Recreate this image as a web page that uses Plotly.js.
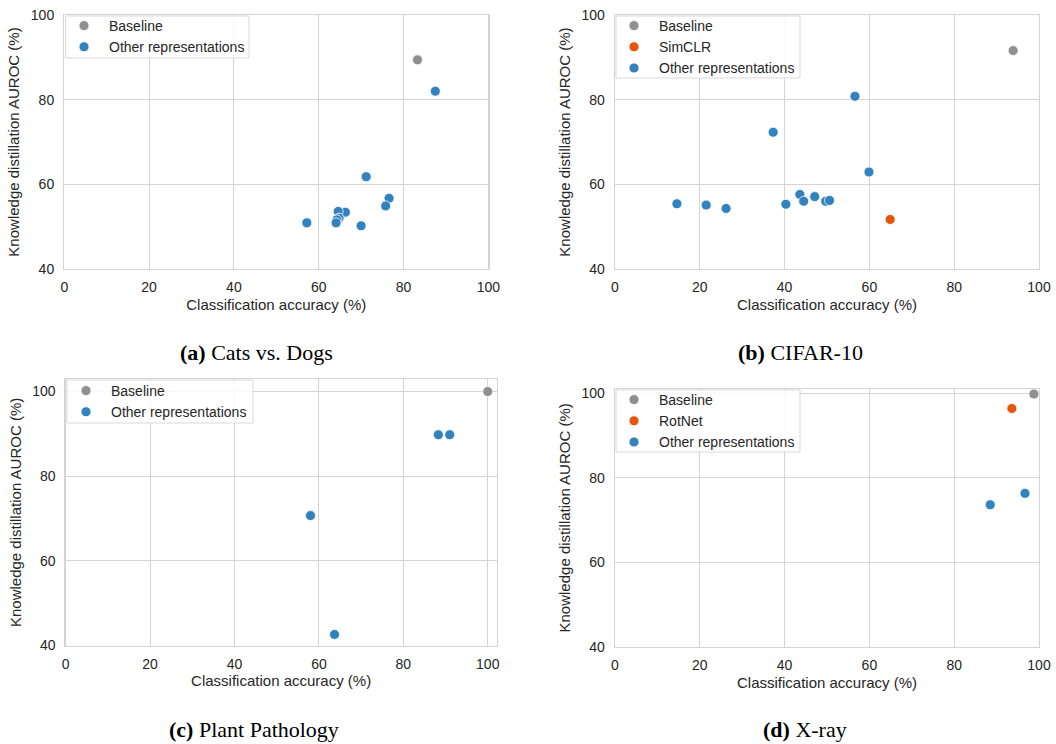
<!DOCTYPE html>
<html>
<head>
<meta charset="utf-8">
<script src="https://cdn.plot.ly/plotly-3.0.1.min.js"></script>
<style>
  html, body { margin: 0; padding: 0; background: #ffffff; }
  #chart { width: 1056px; height: 744px; }
</style>
</head>
<body>
<div id="chart"></div>
<script>
// ---- Data ----
// (a) Cats vs. Dogs
const catsBaselineX = [83.3];
const catsBaselineY = [89.4];
const catsOtherX = [87.5, 71.2, 76.6, 75.8, 66.3, 64.6, 64.8, 64.3, 64.1, 57.2, 70.0];
const catsOtherY = [82.0, 61.8, 56.7, 54.9, 53.4, 53.6, 52.0, 51.6, 50.9, 50.9, 50.2];

// (b) CIFAR-10
const cifarBaselineX = [93.9];
const cifarBaselineY = [91.6];
const cifarSimclrX = [64.9];
const cifarSimclrY = [51.7];
const cifarOtherX = [56.6, 37.3, 59.9, 14.6, 21.5, 26.2, 40.3, 43.6, 44.5, 47.1, 49.7, 50.6];
const cifarOtherY = [80.8, 72.3, 62.9, 55.4, 55.1, 54.3, 55.3, 57.6, 56.0, 57.1, 56.0, 56.2];

// (c) Plant Pathology
const plantBaselineX = [100.0];
const plantBaselineY = [100.0];
const plantOtherX = [88.3, 91.0, 58.0, 63.7];
const plantOtherY = [89.8, 89.8, 70.7, 42.6];

// (d) X-ray
const xrayBaselineX = [98.8];
const xrayBaselineY = [99.8];
const xrayRotnetX = [93.6];
const xrayRotnetY = [96.4];
const xrayOtherX = [88.5, 96.7];
const xrayOtherY = [73.6, 76.3];

const tickVals = [0, 20, 40, 60, 80, 100];
const yTickVals = [40, 60, 80, 100];
const xTitle = "Classification accuracy (%)";
const yTitle = "Knowledge distillation AUROC (%)";
const captions = ["<b>(a)</b> Cats vs. Dogs", "<b>(b)</b> CIFAR-10", "<b>(c)</b> Plant Pathology", "<b>(d)</b> X-ray"];

// ---- Styles ----
const GRAY = "#8f8f8f", BLUE = "#3182bd", ORANGE = "#e6550d";
const GRID = "#d4d4d4", TEXT = "#262626";
const FONT = "Liberation Sans, Arial, sans-serif";
const SERIF = "Liberation Serif, DejaVu Serif, serif";

function pts(name, x, y, color, xa, ya, legend) {
  return {
    type: "scatter", mode: "markers", name: name, x: x, y: y,
    xaxis: xa, yaxis: ya, legend: legend,
    marker: { color: color, size: 10, line: { color: "#ffffff", width: 0.8 } },
    hoverinfo: "x+y"
  };
}

const data = [
  pts("Baseline", catsBaselineX, catsBaselineY, GRAY, "x", "y", "legend"),
  pts("Other representations", catsOtherX, catsOtherY, BLUE, "x", "y", "legend"),
  pts("Baseline", cifarBaselineX, cifarBaselineY, GRAY, "x2", "y2", "legend2"),
  pts("SimCLR", cifarSimclrX, cifarSimclrY, ORANGE, "x2", "y2", "legend2"),
  pts("Other representations", cifarOtherX, cifarOtherY, BLUE, "x2", "y2", "legend2"),
  pts("Baseline", plantBaselineX, plantBaselineY, GRAY, "x3", "y3", "legend3"),
  pts("Other representations", plantOtherX, plantOtherY, BLUE, "x3", "y3", "legend3"),
  pts("Baseline", xrayBaselineX, xrayBaselineY, GRAY, "x4", "y4", "legend4"),
  pts("RotNet", xrayRotnetX, xrayRotnetY, ORANGE, "x4", "y4", "legend4"),
  pts("Other representations", xrayOtherX, xrayOtherY, BLUE, "x4", "y4", "legend4")
];

const W = 1056, H = 744;
function px2x(p) { return p / W; }
function px2y(p) { return 1 - p / H; }

function xaxis(domain, range, anchor) {
  return {
    domain: domain, range: range, anchor: anchor,
    tickvals: tickVals, showgrid: true, gridcolor: GRID, gridwidth: 1,
    zeroline: false, showline: true, linecolor: GRID, linewidth: 1.3, mirror: true,
    ticks: "", ticklabelstandoff: 5,
    tickfont: { family: FONT, size: 14, color: TEXT },
    title: { text: xTitle, font: { family: FONT, size: 15, color: TEXT }, standoff: 5 }
  };
}
function yaxis(domain, range, anchor) {
  return {
    domain: domain, range: range, anchor: anchor,
    tickvals: yTickVals, showgrid: true, gridcolor: GRID, gridwidth: 1,
    zeroline: false, showline: true, linecolor: GRID, linewidth: 1.3, mirror: true,
    ticks: "", ticklabelstandoff: 6,
    tickfont: { family: FONT, size: 14, color: TEXT },
    title: { text: yTitle, font: { family: FONT, size: 15, color: TEXT }, standoff: 7 }
  };
}
function legend(xpx, ypx) {
  return {
    x: px2x(xpx), y: px2y(ypx), xanchor: "left", yanchor: "top",
    bgcolor: "rgba(255,255,255,0)", bordercolor: "rgba(0,0,0,0)", borderwidth: 0,
    font: { family: FONT, size: 14, color: TEXT }, tracegroupgap: 0, itemwidth: 40
  };
}
function box(x0, y0, x1, y1) {
  return {
    type: "rect", xref: "paper", yref: "paper", layer: "above",
    x0: px2x(x0), x1: px2x(x1), y0: px2y(y1), y1: px2y(y0),
    fillcolor: "rgba(255,255,255,0.85)", line: { color: "#d9d9d9", width: 1 }
  };
}

const layout = {
  width: W, height: H,
  margin: { l: 0, r: 0, t: 0, b: 0 },
  paper_bgcolor: "#ffffff", plot_bgcolor: "#ffffff",
  font: { family: FONT, color: TEXT },
  xaxis:  xaxis([px2x(64.3), px2x(488.3)], [0, 100], "y"),
  yaxis:  yaxis([px2y(269), px2y(15)], [40, 100], "x"),
  xaxis2: xaxis([px2x(615), px2x(1039)], [0, 100], "y2"),
  yaxis2: yaxis([px2y(269), px2y(15)], [40, 100], "x2"),
  xaxis3: xaxis([px2x(65.7), px2x(496.6)], [0, 102.1], "y3"),
  yaxis3: yaxis([px2y(645.5), px2y(379.3)], [40, 102.9], "x3"),
  xaxis4: xaxis([px2x(615), px2x(1039)], [0, 100], "y4"),
  yaxis4: yaxis([px2y(646.7), px2y(389)], [40, 101.0], "x4"),
  legend:  legend(59, 10),
  legend2: legend(609, 10),
  legend3: legend(61, 375),
  legend4: legend(609, 384),
  showlegend: true,
  shapes: [
    box(65.5, 16, 249, 58),
    box(616, 16, 800, 78),
    box(67, 380, 253, 423),
    box(616, 390, 800, 452)
  ],
  annotations: [
    { text: captions[0], x: px2x(256), y: px2y(352), xref: "paper", yref: "paper", showarrow: false, xanchor: "center", yanchor: "middle", font: { family: SERIF, size: 22, color: "#000000" } },
    { text: captions[1], x: px2x(800), y: px2y(352), xref: "paper", yref: "paper", showarrow: false, xanchor: "center", yanchor: "middle", font: { family: SERIF, size: 22, color: "#000000" } },
    { text: captions[2], x: px2x(254), y: px2y(729), xref: "paper", yref: "paper", showarrow: false, xanchor: "center", yanchor: "middle", font: { family: SERIF, size: 22, color: "#000000" } },
    { text: captions[3], x: px2x(805), y: px2y(729), xref: "paper", yref: "paper", showarrow: false, xanchor: "center", yanchor: "middle", font: { family: SERIF, size: 22, color: "#000000" } }
  ]
};

Plotly.newPlot("chart", data, layout, { displayModeBar: false, staticPlot: true });
</script>
</body>
</html>
